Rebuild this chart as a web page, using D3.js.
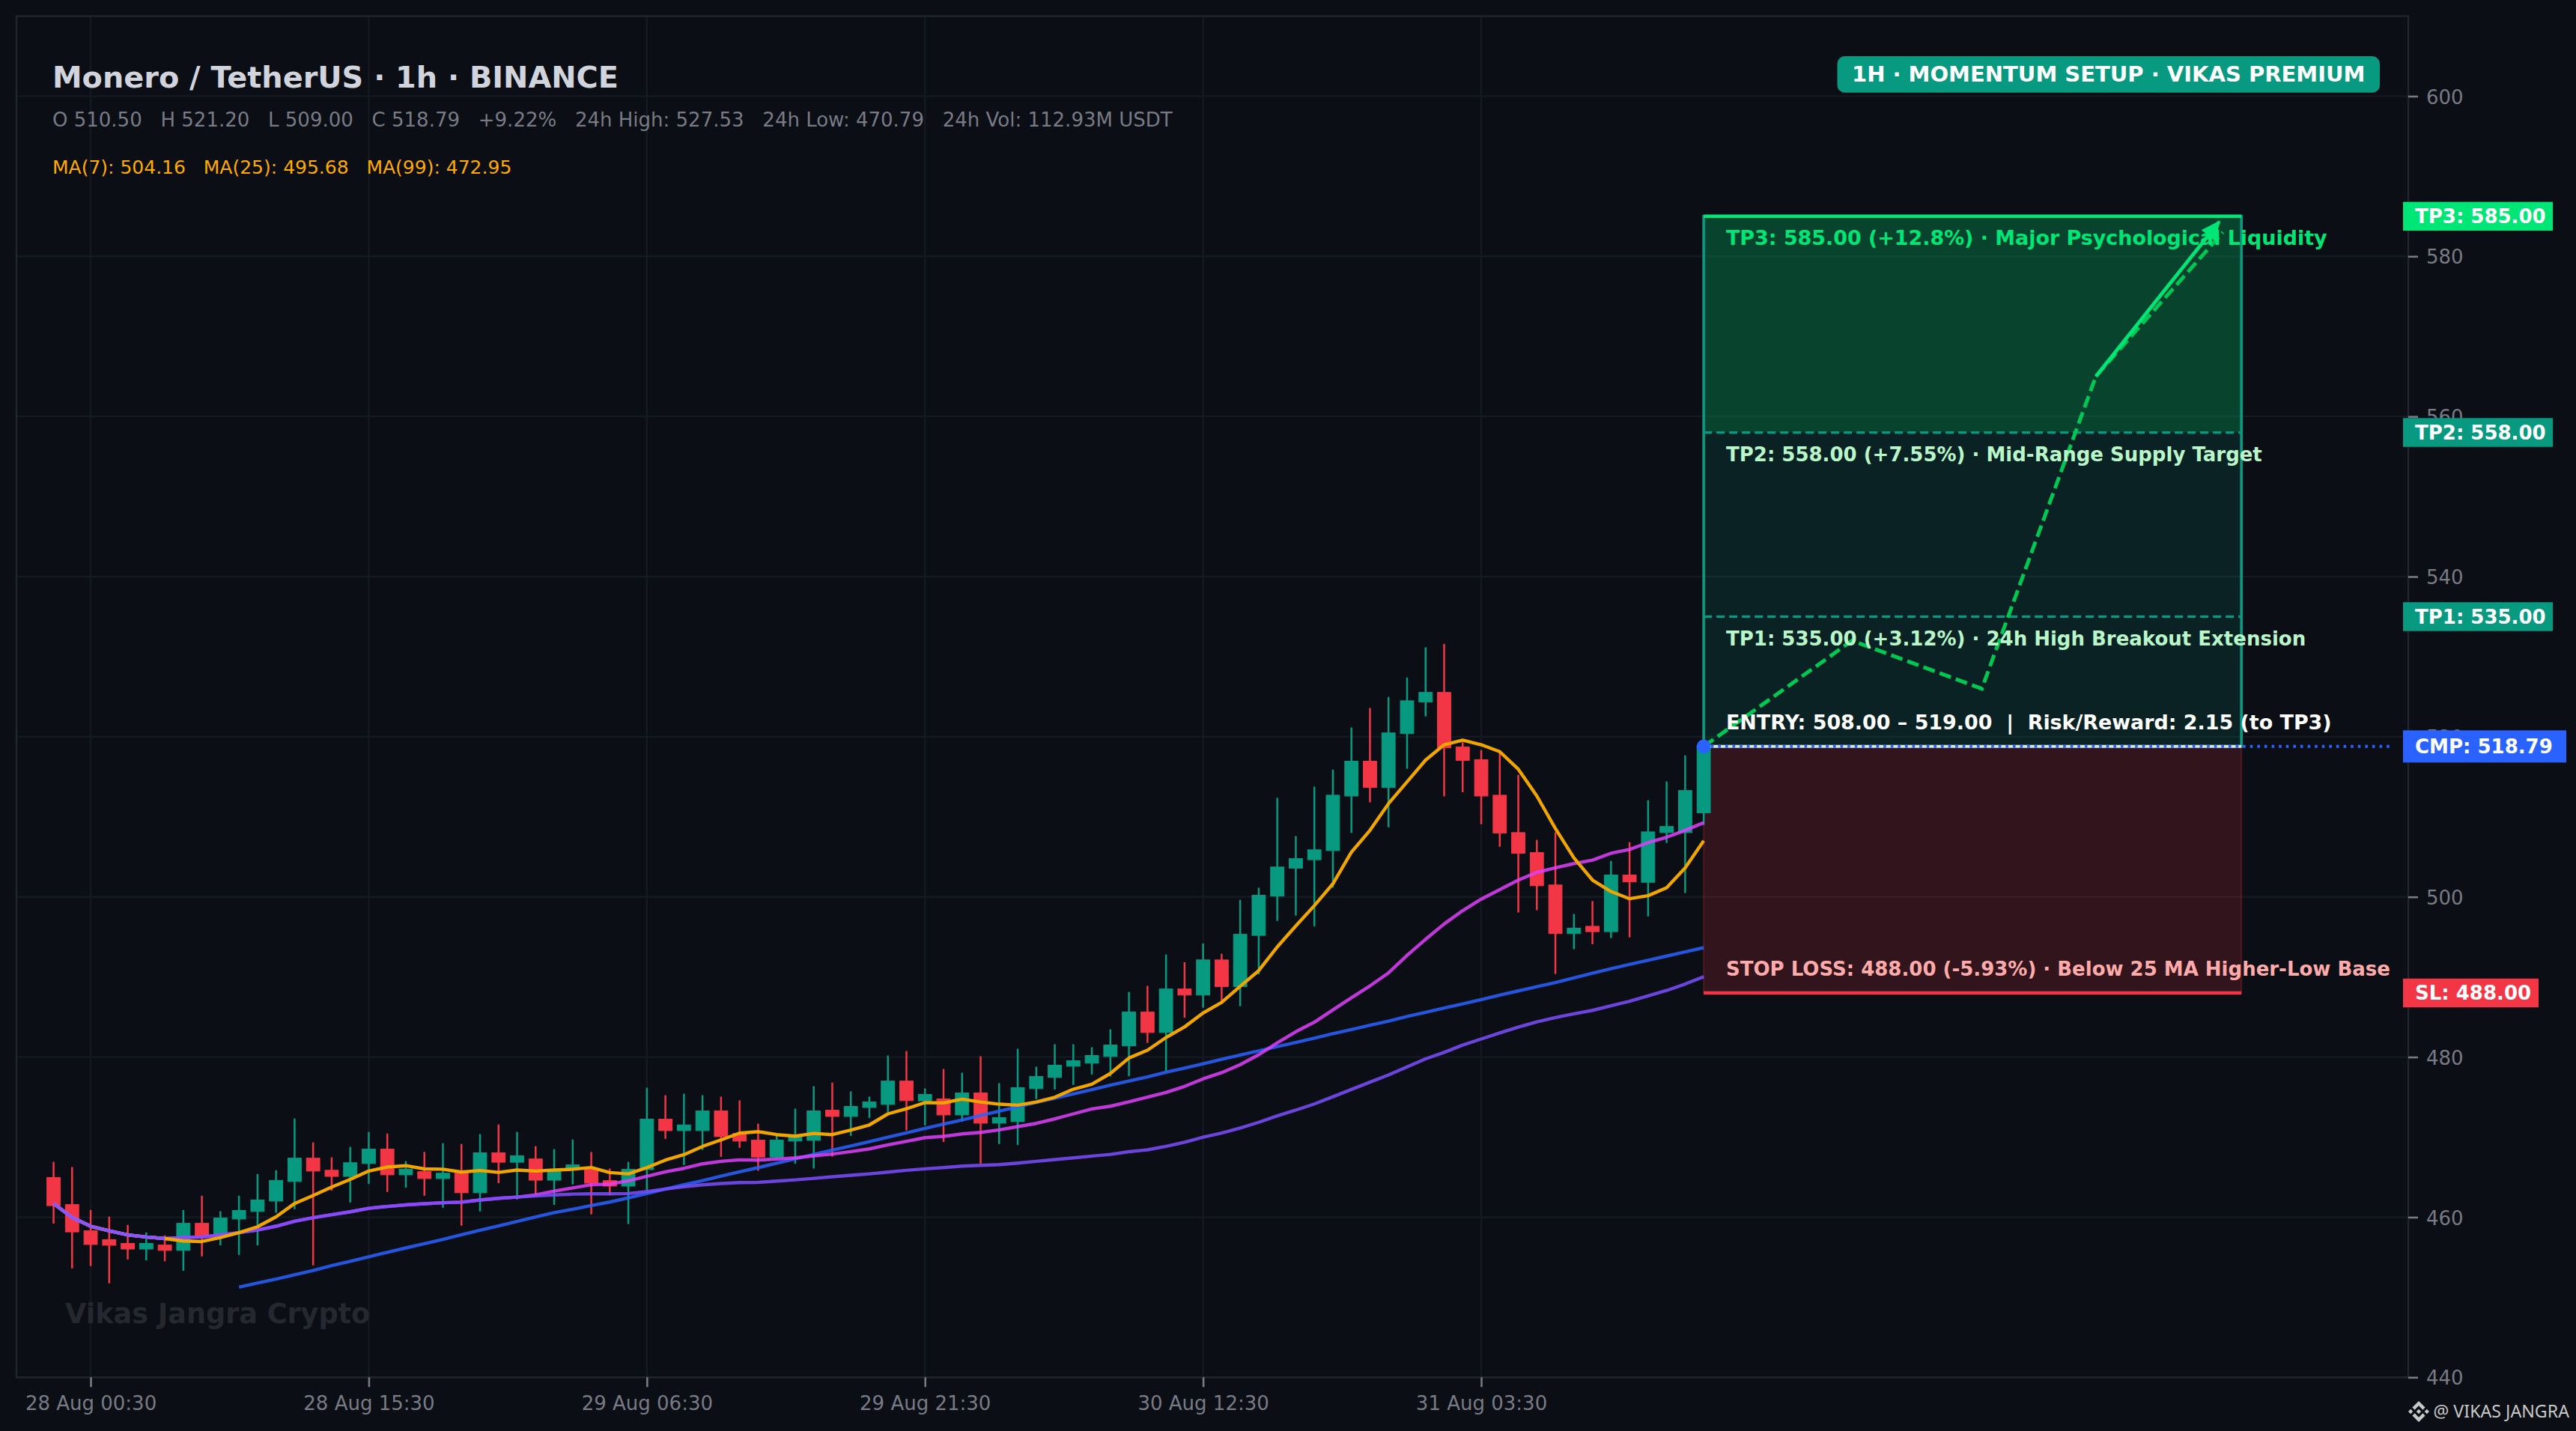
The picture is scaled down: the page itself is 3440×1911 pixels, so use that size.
<!DOCTYPE html>
<html>
<head>
<meta charset="utf-8">
<script src="https://cdn.jsdelivr.net/npm/d3@7"></script>
<style>
html,body{margin:0;padding:0;background:#0b0e14;}
svg{display:block;}
text{font-family:"DejaVu Sans",sans-serif;}
</style>
</head>
<body>
<div class="chart"></div>
<script>
// candles, 1h, index 0 = 27 Aug 22:30
const opens = [464.96,461.58,458.3,457.19,456.72,456.02,456.52,455.85,459.23,457.63,
459.77,460.71,462.01,464.45,467.37,465.86,465.09,466.7,468.5,465.29,
465.69,464.82,465.49,463.05,468.04,466.86,467.27,464.62,465.99,465.99,
464.57,463.88,465.94,472.24,470.81,470.81,473.27,470.46,469.62,467.5,
469.5,469.59,473.36,472.58,473.7,474.08,477.0,474.52,474.77,472.77,
475.51,471.74,471.93,476.05,477.45,478.85,479.23,480.07,481.4,485.63,
483.06,488.5,487.74,492.13,488.79,495.19,500.1,503.59,504.64,505.78,
512.6,516.95,513.66,520.39,524.35,525.54,518.72,517.14,512.7,508.03,
505.54,501.49,495.42,496.33,495.66,502.73,501.82,508.03,508.03,510.5];
const highs = [466.9,466.26,460.9,460.07,459.03,458.1,457.73,460.9,462.68,460.74,
462.68,465.39,465.86,472.32,469.34,467.47,468.77,470.65,470.45,467.0,
468.14,469.24,469.14,470.38,471.58,470.65,468.87,468.5,469.7,468.14,
466.07,466.91,476.17,475.23,475.42,475.23,475.05,474.58,471.68,470.15,
473.55,476.36,476.82,475.7,475.05,480.19,480.75,476.08,478.51,478.04,
480.1,476.73,481.03,478.79,481.6,481.6,481.22,483.47,488.13,488.89,
492.8,491.84,494.18,492.9,499.63,501.15,512.37,507.6,513.75,515.9,
521.15,523.59,524.97,527.4,531.17,531.6,519.3,518.34,518.1,515.23,
507.12,508.07,497.86,499.48,504.49,506.83,512.08,514.42,517.67,521.2];
const lows = [459.2,453.6,453.9,451.74,454.72,454.6,454.5,453.31,455.1,456.49,
455.28,456.49,460.54,461.0,453.98,463.32,461.84,464.15,463.15,463.69,
462.68,461.18,458.93,460.71,464.25,462.21,462.78,461.54,464.09,460.34,
462.73,459.14,463.29,469.78,466.5,468.4,467.53,468.66,465.79,467.35,
466.69,466.07,467.56,470.15,472.4,473.1,470.84,471.46,469.4,471.96,
466.69,469.12,469.03,474.74,475.95,476.51,477.82,477.57,477.6,481.76,
478.24,484.92,486.16,486.83,486.35,490.32,497.0,497.67,496.33,501.15,
507.98,511.8,508.69,516.0,522.54,512.56,513.08,509.07,506.26,498.05,
498.34,490.37,493.47,494.09,494.85,494.95,497.57,506.74,500.48,509.0];
const closes = [461.44,458.16,456.59,456.49,456.02,456.72,455.85,459.23,457.63,459.9,
460.84,462.15,464.59,467.37,465.76,465.09,466.8,468.5,465.29,466.0,
464.82,465.49,463.05,468.04,466.86,467.67,464.62,465.99,466.53,464.25,
463.88,465.97,472.24,470.81,471.52,473.27,470.06,469.5,467.5,469.62,
470.09,473.27,472.58,473.83,474.39,477.0,474.55,475.33,472.77,475.51,
471.74,472.43,476.17,477.57,478.98,479.54,480.19,481.5,485.63,483.06,
488.5,487.74,492.13,488.79,495.33,500.2,503.73,504.78,505.88,512.7,
516.95,513.66,520.48,524.49,525.54,518.62,517.05,512.6,507.98,505.45,
501.39,495.42,496.09,495.66,502.73,501.87,508.12,508.79,513.28,518.79];

// moving averages at each candle
const ma7 = [461.7,459.97,458.87,458.3,457.79,457.53,457.33,457.03,456.96,457.46,
458.06,458.8,460.04,461.71,462.71,463.75,464.72,465.76,466.26,466.43,
466.03,465.99,465.63,465.83,465.59,465.89,465.76,465.89,465.99,466.2,
465.57,465.41,466.19,467.13,467.81,468.84,469.65,470.49,470.68,470.31,
470.12,470.46,470.31,470.87,471.52,472.9,473.55,474.3,474.27,474.74,
474.39,474.11,473.99,474.39,474.98,475.98,476.61,477.95,479.88,480.85,
482.44,483.76,485.5,486.83,488.84,490.79,493.75,496.38,498.91,501.63,
505.59,508.31,511.65,514.37,517.09,519.0,519.58,519.0,518.14,515.95,
512.6,508.55,504.87,502.1,500.67,499.77,500.15,501.15,503.63,507.02];
const ma25 = [461.71,459.97,458.87,458.3,457.79,457.53,457.33,457.46,457.53,457.79,
458.06,458.4,458.87,459.5,459.94,460.31,460.67,461.11,461.34,461.54,
461.68,461.81,461.88,462.15,462.35,462.51,462.78,463.25,463.65,464.05,
464.13,464.54,465.1,465.66,466.1,466.66,466.97,467.16,467.13,467.25,
467.41,467.66,467.88,468.19,468.53,469.03,469.47,469.93,470.09,470.4,
470.59,470.9,471.31,471.71,472.27,472.9,473.52,473.86,474.4,475.0,
475.58,476.33,477.28,478.05,479.05,480.29,481.77,483.16,484.35,485.88,
487.41,488.89,490.51,492.7,494.71,496.62,498.29,499.72,500.91,502.1,
503.06,503.63,504.16,504.59,505.45,505.92,506.78,507.45,508.31,509.27];
const ma99 = [null,null,null,null,null,null,null,null,null,null,
451.27,451.77,452.27,452.81,453.34,453.95,454.48,455.05,455.62,456.16,
456.69,457.23,457.8,458.36,458.9,459.47,460.04,460.57,460.98,461.45,
461.89,462.42,462.95,463.51,464.04,464.57,465.13,465.66,466.19,466.75,
467.28,467.84,468.37,468.9,469.43,470.0,470.53,471.09,471.62,472.15,
472.71,473.24,473.77,474.33,474.86,475.39,475.92,476.48,477.0,477.52,
478.1,478.62,479.15,479.72,480.25,480.77,481.3,481.82,482.35,482.92,
483.44,483.97,484.49,485.07,485.59,486.12,486.64,487.17,487.74,488.26,
488.79,489.31,489.89,490.46,491.03,491.56,492.08,492.61,493.13,493.66];
const maLong = [461.71,459.97,458.87,458.3,457.79,457.53,457.33,457.46,457.53,457.79,
458.06,458.4,458.87,459.5,459.94,460.31,460.67,461.11,461.34,461.54,
461.68,461.81,461.88,462.15,462.35,462.51,462.65,462.78,462.88,462.92,
462.92,462.95,463.2,463.51,463.79,464.04,464.2,464.32,464.35,464.51,
464.66,464.85,465.04,465.23,465.41,465.63,465.85,466.04,466.19,466.38,
466.47,466.57,466.75,466.97,467.19,467.41,467.63,467.84,468.18,468.41,
468.84,469.36,469.98,470.51,471.13,471.85,472.66,473.37,474.14,475.04,
475.95,476.86,477.76,478.77,479.77,480.58,481.49,482.25,483.01,483.73,
484.4,484.92,485.4,485.83,486.4,486.97,487.64,488.31,489.12,490.03];

const yTicks = [440,460,480,500,520,540,560,580,600];
const xTickIdx = [2,17,32,47,62,77];
const xTickLabels = ["28 Aug 00:30","28 Aug 15:30","29 Aug 06:30","29 Aug 21:30","30 Aug 12:30","31 Aug 03:30"];

// projected path and trade levels
const pathIdx = [89,97,104,110.15,117];
const pathPrice = [518.79,532,526,565,583];
const tp3 = 585, tp2 = 558, tp1 = 535, cmp = 518.79, sl = 488;
const boxStart = 89, boxEnd = 118;

const bg = "#0b0e14", green = "#089981", red = "#f23645", bright = "#00e676", blue = "#2962ff";

const W = 3440, H = 1911;
const plot = {left:22, right:3216, top:21.5, bottom:1839.3};

const x = d3.scaleLinear().domain([-2,127]).range([plot.left,plot.right]);
const y = d3.scaleLinear().domain([440,610]).range([plot.bottom,plot.top]);

const svg = d3.select(".chart").append("svg")
    .attr("width",W).attr("height",H)
    .style("background",bg);

// grid
svg.append("g").selectAll("line").data(yTicks).enter().append("line")
    .attr("x1",plot.left).attr("x2",plot.right)
    .attr("y1",d=>y(d)).attr("y2",d=>y(d))
    .attr("stroke","#151921").attr("stroke-width",2.4);
svg.append("g").selectAll("line").data(xTickIdx).enter().append("line")
    .attr("x1",d=>x(d)).attr("x2",d=>x(d))
    .attr("y1",plot.top).attr("y2",plot.bottom)
    .attr("stroke","#151921").attr("stroke-width",2.4);

// trade zones
function zone(top,bottom,fill,op){
    svg.append("rect")
    .attr("x",x(boxStart)).attr("width",x(boxEnd)-x(boxStart))
    .attr("y",y(top)).attr("height",y(bottom)-y(top))
    .attr("fill",fill).attr("fill-opacity",op);
}
zone(tp3,cmp,green,0.15);
zone(tp3,tp2,"#00c853",0.2);
zone(cmp,sl,red,0.17);

// box edges
const boxEdge = svg.append("g").attr("fill","none");
boxEdge.append("rect")
    .attr("x",x(boxStart)).attr("y",y(tp3))
    .attr("width",x(boxEnd)-x(boxStart)).attr("height",y(cmp)-y(tp3))
    .attr("stroke",green).attr("stroke-width",3.6);
boxEdge.append("rect")
    .attr("x",x(boxStart)).attr("y",y(cmp))
    .attr("width",x(boxEnd)-x(boxStart)).attr("height",y(sl)-y(cmp))
    .attr("stroke",red).attr("stroke-opacity",0.2).attr("stroke-width",2.4);

// candles
const idx = d3.range(opens.length);
const candles = svg.append("g").selectAll("g").data(idx).enter().append("g")
    .attr("fill",i=>closes[i]>=opens[i]?green:red)
    .attr("stroke",i=>closes[i]>=opens[i]?green:red);
candles.append("line")
    .attr("x1",i=>x(i)).attr("x2",i=>x(i))
    .attr("y1",i=>y(highs[i])).attr("y2",i=>y(lows[i]))
    .attr("stroke-width",2.5);
candles.append("rect")
    .attr("x",i=>x(i-0.36)).attr("width",x(0.72)-x(0))
    .attr("y",i=>y(Math.max(opens[i],closes[i])))
    .attr("height",i=>Math.abs(y(opens[i])-y(closes[i])))
    .attr("stroke-width",1);

// MA lines
const line = d3.line().defined(d=>d!==null).x((d,i)=>x(i)).y(d=>y(d));
[[ma99,"#2962ff",0.85],[ma25,"#e040fb",0.85],[maLong,"#7c4dff",0.85],[ma7,"#f0a500",1]].forEach(s=>{
    svg.append("path").datum(s[0])
    .attr("d",line).attr("fill","none")
    .attr("stroke",s[1]).attr("stroke-opacity",s[2])
    .attr("stroke-width",4.4).attr("stroke-linejoin","round");
});
// purple sits over orange in the first candles, where they coincide
svg.append("path").datum(maLong.slice(0,7))
    .attr("d",line).attr("fill","none")
    .attr("stroke","#8a55ff").attr("stroke-width",4.4);

function hline(p,x0,x1,color,w,dash,op){
    svg.append("line")
    .attr("x1",x0).attr("x2",x1).attr("y1",y(p)).attr("y2",y(p))
    .attr("stroke",color).attr("stroke-width",w)
    .attr("stroke-opacity",op===undefined?1:op)
    .attr("stroke-dasharray",dash);
}
hline(tp3,x(boxStart),x(boxEnd),bright,4.6,null);
hline(tp2,x(boxStart),x(boxEnd),green,3.2,"11 6");
hline(tp1,x(boxStart),x(boxEnd),green,3.2,"11 6");
hline(sl,x(boxStart),x(boxEnd),red,4.6,null);
hline(cmp,x(boxStart),x(boxEnd),"#ffffff",4,null,0.8);
hline(cmp,x(boxStart),3194,blue,4,"3.6 6");

// projected path
const pathLine = d3.line().x((d,i)=>x(pathIdx[i])).y(d=>y(d));
svg.append("path").datum(pathPrice)
    .attr("d",pathLine).attr("fill","none")
    .attr("stroke","#00c853").attr("stroke-width",5)
    .attr("stroke-dasharray","16 7");

svg.append("defs").append("marker")
    .attr("id","head").attr("markerUnits","userSpaceOnUse")
    .attr("viewBox","0 0 20 20").attr("refX",18).attr("refY",10)
    .attr("markerWidth",26).attr("markerHeight",26).attr("orient","auto")
    .append("path").attr("d","M0,1 L20,10 L0,19 Z").attr("fill",bright);
svg.append("line")
    .attr("x1",x(110.15)).attr("y1",y(565))
    .attr("x2",x(116.8)).attr("y2",y(584.3))
    .attr("stroke",bright).attr("stroke-width",4.8)
    .attr("marker-end","url(#head)");

svg.append("circle")
    .attr("cx",x(boxStart)).attr("cy",y(cmp)).attr("r",9.4).attr("fill",blue);

// spines
svg.append("rect")
    .attr("x",plot.left).attr("y",plot.top)
    .attr("width",plot.right-plot.left).attr("height",plot.bottom-plot.top)
    .attr("fill","none").attr("stroke","#20242e").attr("stroke-width",2.6);

// axes
const yAxis = d3.axisRight(y).tickValues(yTicks).tickSize(13).tickPadding(11);
const gy = svg.append("g").attr("transform",`translate(${plot.right},0)`).call(yAxis);
const xAxis = d3.axisBottom(x).tickValues(xTickIdx)
    .tickFormat((d,i)=>xTickLabels[i]).tickSize(13).tickPadding(12);
const gx = svg.append("g").attr("transform",`translate(0,${plot.bottom})`).call(xAxis);
[gy,gx].forEach(g=>{
    g.select(".domain").remove();
    g.selectAll("line").attr("stroke","#787b86").attr("stroke-width",2.6);
    g.selectAll("text").attr("fill","#787b86").style("font-size","26px")
    .style("font-family",'"DejaVu Sans"');
});
gy.selectAll("text").attr("dy","0.37em");

// header text
function label(t,px,py,size,color,weight){
    return svg.append("text").attr("x",px).attr("y",py)
    .style("font-size",size+"px").attr("fill",color)
    .attr("font-weight",weight||"normal").style("white-space","pre").text(t);
}
label("Monero / TetherUS · 1h · BINANCE",70,116.5,39.8,"#d1d4dc","bold");
label("O 510.50   H 521.20   L 509.00   C 518.79   +9.22%   24h High: 527.53   24h Low: 470.79   24h Vol: 112.93M USDT",70,169,26,"#787b86");
label("MA(7): 504.16   MA(25): 495.68   MA(99): 472.95",70,231.5,25,"#ffab00");

// badge
svg.append("rect").attr("x",2453.5).attr("y",75).attr("width",724.5).attr("height",48.7)
    .attr("rx",10).attr("fill",green);
label("1H · MOMENTUM SETUP · VIKAS PREMIUM",2815.7,108.5,29,"#ffffff","bold").attr("text-anchor","middle");

// zone captions
label("TP3: 585.00 (+12.8%) · Major Psychological Liquidity",2305,327,26.9,bright,"bold");
label("TP2: 558.00 (+7.55%) · Mid-Range Supply Target",2305,616,26,"#b9f6ca","bold");
label("TP1: 535.00 (+3.12%) · 24h High Breakout Extension",2305,862,26,"#b9f6ca","bold");
label("ENTRY: 508.00 – 519.00  |  Risk/Reward: 2.15 (to TP3)",2305,973.5,26.9,"#ffffff","bold");
label("STOP LOSS: 488.00 (-5.93%) · Below 25 MA Higher-Low Base",2305,1302.5,26,"#ffabab","bold");

// price tags on the right
function tag(t,p,w,h,fill,size){
    const cy = y(p);
    svg.append("rect").attr("x",3209).attr("y",cy-h/2).attr("width",w).attr("height",h).attr("fill",fill);
    label(t,3225,cy+size*0.36,size,"#ffffff","bold");
}
tag("TP3: 585.00",tp3,200,38.5,bright,26);
tag("TP2: 558.00",tp2,200,38.5,green,26);
tag("TP1: 535.00",tp1,200,38.5,green,26);
tag("CMP: 518.79",cmp,218,43,blue,26);
tag("SL: 488.00",sl,181,38.5,red,26);

// watermark
label("Vikas Jangra Crypto",87,1767,36.6,"#25282f","bold");

// credit
const logo = svg.append("g").attr("transform","translate(3216,1871) scale(0.875)").attr("fill","#c8c8c8");
["M9.8 13.4L16 7.2l6.2 6.2 3.6-3.6L16 0 6.2 9.8z","M0 16l3.6-3.6L7.2 16l-3.6 3.6z",
"M9.8 18.6L16 24.8l6.2-6.2 3.6 3.6L16 32l-9.8-9.8z","M24.8 16l3.6-3.6L32 16l-3.6 3.6z",
"M19.6 16L16 12.4 12.4 16 16 19.6z"].forEach(d=>logo.append("path").attr("d",d));
label("@ VIKAS JANGRA",3249.5,1893,23.2,"#c8c8c8").style("font-family",'"Noto Sans"');
</script>
</body>
</html>
